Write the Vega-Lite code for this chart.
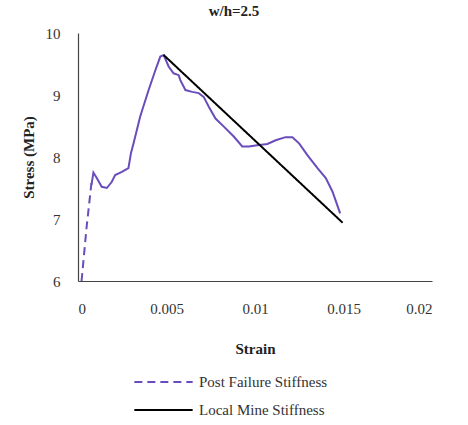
{
  "$schema": "https://vega.github.io/schema/vega-lite/v6.json",
  "width": 354,
  "height": 248,
  "autosize": {"type": "none"},
  "padding": {"left": 78, "top": 33, "right": 36, "bottom": 144},
  "background": "white",
  "title": {"text": "w/h=2.5", "font": "Times New Roman, Liberation Serif, serif", "fontSize": 15, "fontWeight": "bold", "color": "#222", "dx": -21, "offset": 7},
  "config": {
    "font": "Times New Roman, Liberation Serif, serif",
    "view": {"stroke": null},
    "axis": {"labelFont": "Times New Roman, Liberation Serif, serif", "titleFont": "Times New Roman, Liberation Serif, serif", "labelFontSize": 15, "titleFontSize": 15, "labelColor": "#333", "titleColor": "#222", "grid": false, "ticks": false, "domainColor": "#444", "domainWidth": 1.2, "titleFontWeight": "bold"},
    "legend": {"labelFont": "Times New Roman, Liberation Serif, serif", "labelFontSize": 15, "labelColor": "#333"}
  },
  "datasets": {
    "curve": [
      {"strain": 0.00076, "stress": 7.55},
      {"strain": 0.00087, "stress": 7.75},
      {"strain": 0.00106, "stress": 7.66},
      {"strain": 0.00134, "stress": 7.52},
      {"strain": 0.00163, "stress": 7.50},
      {"strain": 0.00191, "stress": 7.60},
      {"strain": 0.0021, "stress": 7.71},
      {"strain": 0.00248, "stress": 7.76},
      {"strain": 0.00285, "stress": 7.82},
      {"strain": 0.00299, "stress": 8.06},
      {"strain": 0.00314, "stress": 8.22},
      {"strain": 0.00351, "stress": 8.65},
      {"strain": 0.00399, "stress": 9.08},
      {"strain": 0.00437, "stress": 9.40},
      {"strain": 0.00465, "stress": 9.62},
      {"strain": 0.00484, "stress": 9.645},
      {"strain": 0.00512, "stress": 9.46},
      {"strain": 0.0054, "stress": 9.35},
      {"strain": 0.00569, "stress": 9.32},
      {"strain": 0.00578, "stress": 9.24},
      {"strain": 0.00607, "stress": 9.08},
      {"strain": 0.00645, "stress": 9.05},
      {"strain": 0.00682, "stress": 9.03},
      {"strain": 0.0071, "stress": 8.97},
      {"strain": 0.00739, "stress": 8.81},
      {"strain": 0.00777, "stress": 8.62},
      {"strain": 0.00824, "stress": 8.49},
      {"strain": 0.0088, "stress": 8.33},
      {"strain": 0.00928, "stress": 8.17},
      {"strain": 0.00966, "stress": 8.17},
      {"strain": 0.01013, "stress": 8.19},
      {"strain": 0.0107, "stress": 8.21},
      {"strain": 0.01117, "stress": 8.27},
      {"strain": 0.01173, "stress": 8.32},
      {"strain": 0.01211, "stress": 8.32},
      {"strain": 0.01249, "stress": 8.22},
      {"strain": 0.01296, "stress": 8.03},
      {"strain": 0.01353, "stress": 7.82},
      {"strain": 0.014, "stress": 7.66},
      {"strain": 0.01438, "stress": 7.44},
      {"strain": 0.01481, "stress": 7.09}
    ],
    "lines": [
      {"series": "Post Failure Stiffness", "strain": 0.0002, "stress": 6.0},
      {"series": "Post Failure Stiffness", "strain": 0.00049, "stress": 6.88},
      {"series": "Post Failure Stiffness", "strain": 0.00076, "stress": 7.58},
      {"series": "Local Mine Stiffness", "strain": 0.00484, "stress": 9.645},
      {"series": "Local Mine Stiffness", "strain": 0.01495, "stress": 6.94}
    ]
  },
  "layer": [
    {
      "data": {"name": "curve"},
      "mark": {"type": "line", "color": "#6a4cbc", "strokeWidth": 2},
      "encoding": {
        "x": {"field": "strain", "type": "quantitative", "scale": {"domain": [0, 0.02]}, "axis": {"values": [0, 0.005, 0.01, 0.015, 0.02], "format": "~g", "title": "Strain", "labelPadding": 20, "titlePadding": 25}},
        "y": {"field": "stress", "type": "quantitative", "scale": {"domain": [6, 10]}, "axis": {"values": [6, 7, 8, 9, 10], "format": "~g", "title": "Stress  (MPa)", "labelPadding": 18, "titlePadding": 9}}
      }
    },
    {
      "data": {"name": "lines"},
      "mark": {"type": "line", "strokeWidth": 2},
      "encoding": {
        "x": {"field": "strain", "type": "quantitative"},
        "y": {"field": "stress", "type": "quantitative"},
        "color": {"field": "series", "type": "nominal", "scale": {"domain": ["Post Failure Stiffness", "Local Mine Stiffness"], "range": ["#6a4cbc", "#000000"]}, "legend": {"title": null, "orient": "none", "legendX": 55, "legendY": 340, "symbolType": "stroke", "symbolSize": 3400, "symbolStrokeWidth": 2, "clipHeight": 18, "rowPadding": 10, "labelOffset": 5}},
        "strokeDash": {"field": "series", "type": "nominal", "scale": {"domain": ["Post Failure Stiffness", "Local Mine Stiffness"], "range": [[8, 5], [1, 0]]}, "legend": {"title": null}}
      }
    }
  ]
}
